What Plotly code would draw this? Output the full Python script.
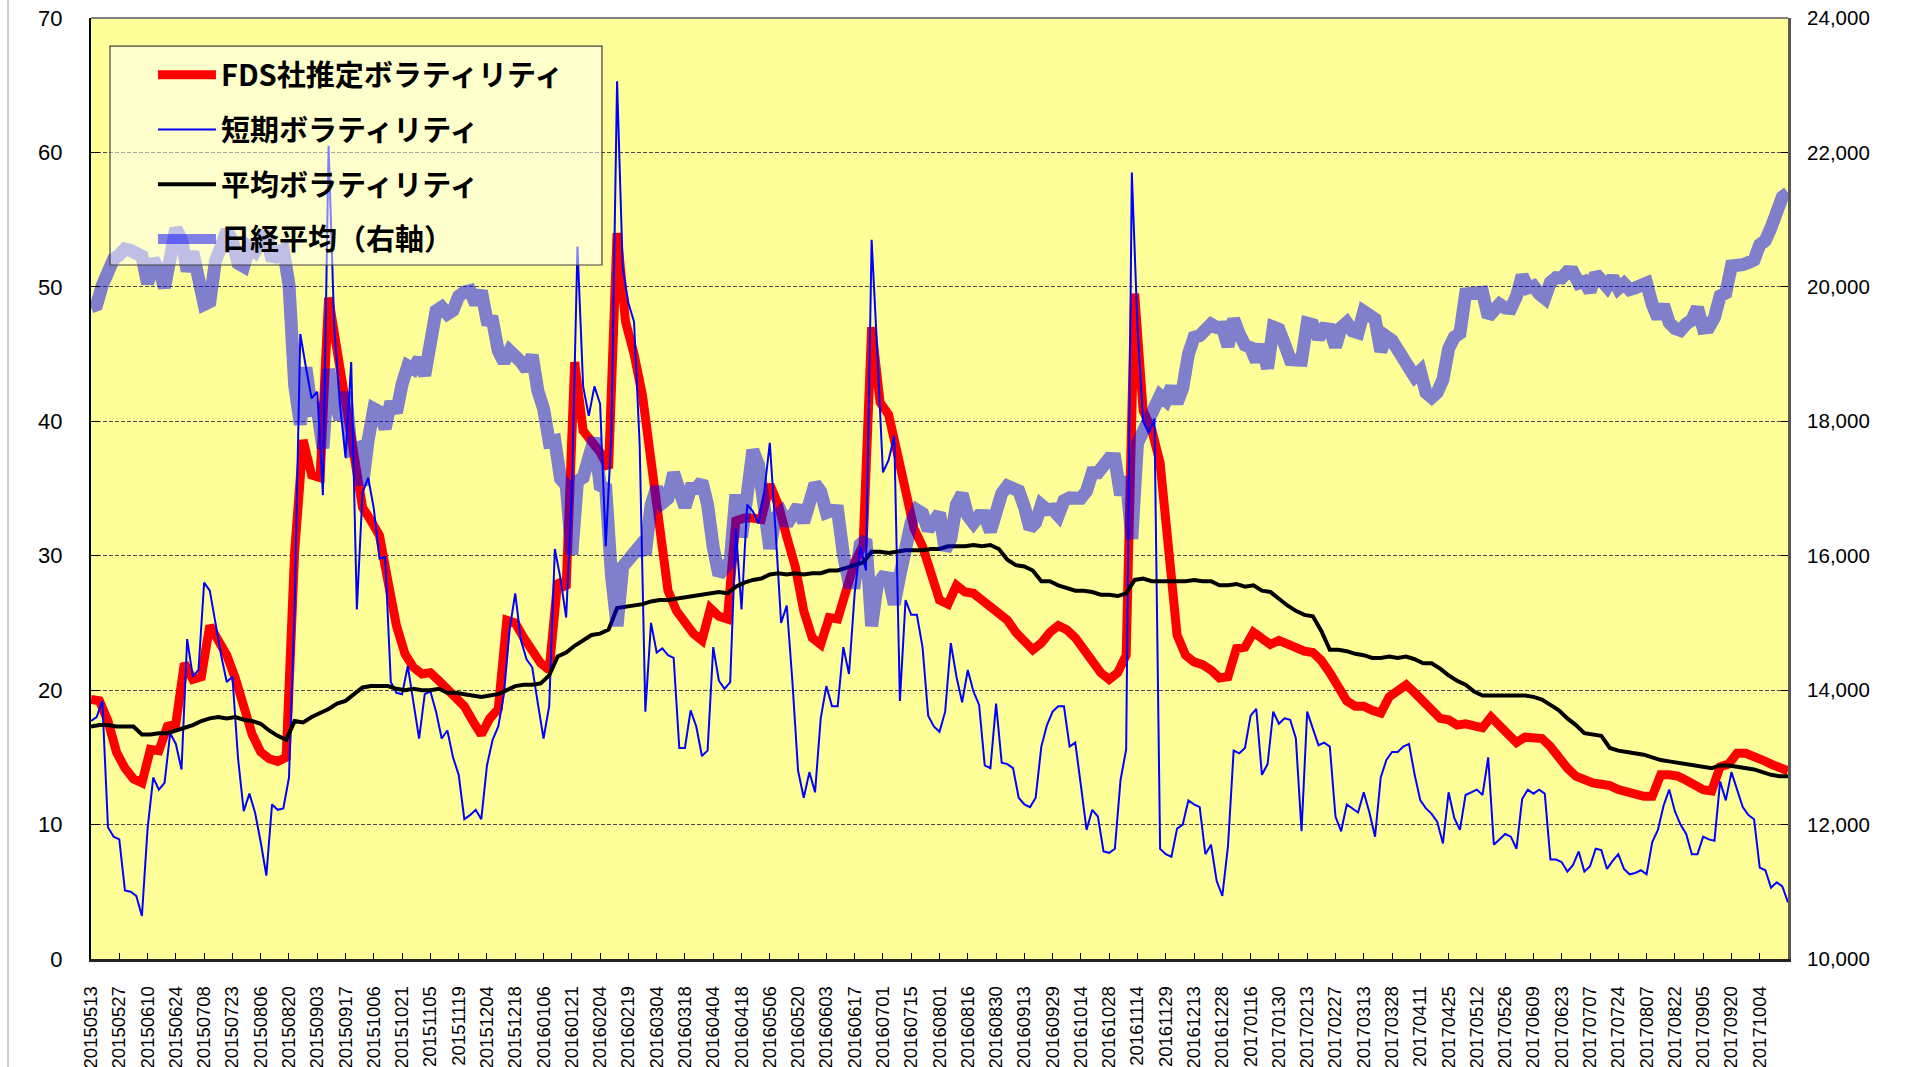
import pandas as pd
import plotly.graph_objects as go

# ---- calendar: Tokyo Stock Exchange trading days ----
tse_holidays = [
    "2015-07-20", "2015-09-21", "2015-09-22", "2015-09-23", "2015-10-12", "2015-11-03",
    "2015-11-23", "2015-12-23", "2015-12-31", "2016-01-01", "2016-01-11", "2016-02-11",
    "2016-03-21", "2016-04-29", "2016-05-03", "2016-05-04", "2016-05-05", "2016-07-18",
    "2016-08-11", "2016-09-19", "2016-09-22", "2016-10-10", "2016-11-03", "2016-11-23",
    "2016-12-23", "2017-01-02", "2017-01-03", "2017-01-09", "2017-03-20", "2017-05-03",
    "2017-05-04", "2017-05-05", "2017-07-17", "2017-08-11", "2017-09-18", "2017-10-09",
]

tick_labels = [
    "20150513", "20150527", "20150610", "20150624", "20150708", "20150723", "20150806",
    "20150820", "20150903", "20150917", "20151006", "20151021", "20151105", "20151119",
    "20151204", "20151218", "20160106", "20160121", "20160204", "20160219", "20160304",
    "20160318", "20160404", "20160418", "20160506", "20160520", "20160603", "20160617",
    "20160701", "20160715", "20160801", "20160816", "20160830", "20160913", "20160929",
    "20161014", "20161028", "20161114", "20161129", "20161213", "20161228", "20170116",
    "20170130", "20170213", "20170227", "20170313", "20170328", "20170411", "20170425",
    "20170512", "20170526", "20170609", "20170623", "20170707", "20170724", "20170807",
    "20170822", "20170905", "20170920", "20171004",
]

# ---- series ----
# short-term volatility, every 2nd trading day
short_vol = [
    17.7, 18.0, 19.2, 9.8, 9.1, 8.9, 5.1, 5.0, 4.7, 3.2, 9.7, 13.5, 12.6, 13.1, 16.8, 16.0, 14.1, 23.8, 21.0, 21.5,
    28.0, 27.4, 25.0, 22.6, 20.6, 21.0, 14.9, 11.0, 12.3, 10.9, 8.7, 6.2, 11.5, 11.1, 11.2, 13.5, 26.3, 46.5, 44.0, 41.7,
    42.2, 34.5, 60.5, 47.0, 41.3, 37.3, 44.4, 26.0, 34.7, 35.8, 33.5, 29.8, 29.9, 20.6, 19.8, 19.7, 21.8, 19.0, 16.4, 19.7,
    19.9, 18.4, 16.4, 17.0, 15.0, 13.7, 10.4, 10.7, 11.1, 10.4, 14.4, 16.3, 17.3, 19.7, 24.5, 27.2, 23.7, 22.3, 21.7, 19.0,
    16.4, 18.8, 30.5, 28.3, 25.4, 34.7, 53.0, 42.6, 40.4, 42.6, 41.3, 30.7, 39.1, 65.3, 51.4, 48.8, 47.4, 38.2, 18.4, 25.0,
    22.8, 23.1, 22.6, 22.4, 15.7, 15.7, 18.5, 17.3, 15.1, 15.5, 23.2, 20.7, 20.1, 20.6, 32.0, 26.0, 33.8, 33.3, 32.4, 34.7,
    38.4, 32.0, 25.0, 26.3, 20.6, 14.0, 12.0, 13.9, 12.4, 17.9, 20.3, 18.8, 18.8, 23.2, 21.2, 27.2, 30.7, 28.9, 53.5, 45.2,
    36.2, 37.1, 38.9, 19.2, 26.7, 25.6, 25.6, 23.2, 18.1, 17.3, 16.9, 18.4, 23.5, 21.0, 19.1, 21.5, 19.9, 18.9, 14.4, 14.2,
    19.0, 14.6, 14.5, 14.2, 12.0, 11.5, 11.3, 12.0, 15.8, 17.4, 18.4, 18.8, 18.8, 15.8, 16.1, 12.9, 9.6, 11.1, 10.6, 8.0,
    7.9, 8.2, 13.3, 15.6, 58.5, 47.0, 40.0, 39.1, 40.2, 8.2, 7.8, 7.6, 9.7, 10.0, 11.8, 11.5, 11.3, 7.8, 8.5, 5.8,
    4.7, 8.4, 15.5, 15.3, 15.7, 18.1, 18.6, 13.7, 14.5, 18.4, 17.5, 17.9, 17.8, 16.4, 9.5, 18.4, 17.1, 15.9, 16.1, 15.8,
    10.6, 9.5, 11.5, 11.2, 10.9, 12.4, 10.9, 9.1, 13.5, 14.8, 15.4, 15.4, 15.8, 16.0, 13.7, 11.8, 11.2, 10.8, 10.2, 8.6,
    12.4, 10.5, 9.6, 12.2, 12.4, 12.6, 12.2, 15.0, 8.5, 8.9, 9.3, 9.1, 8.2, 11.9, 12.6, 12.3, 12.6, 12.3, 7.4, 7.4,
    7.2, 6.5, 7.0, 8.0, 6.5, 6.9, 8.2, 8.1, 6.7, 7.3, 7.8, 6.7, 6.3, 6.4, 6.6, 6.3, 8.7, 9.6, 11.4, 12.6,
    11.0, 10.0, 9.3, 7.8, 7.8, 9.1, 8.9, 8.8, 13.2, 11.8, 13.9, 12.6, 11.3, 10.7, 10.4, 6.8, 6.6, 5.3, 5.7, 5.4,
    4.2,
]

# FDS estimated volatility, every 3rd trading day
fds_vol = [
    19.3, 19.2, 17.7, 15.4, 14.2, 13.4, 13.1, 15.6, 15.5, 17.3, 17.5, 22.0, 20.8, 21.0, 24.8, 23.6, 22.6, 20.9, 18.8, 16.7,
    15.4, 14.9, 14.7, 15.0, 30.3, 38.6, 36.0, 35.8, 49.2, 45.2, 41.7, 37.5, 33.6, 32.6, 31.5, 28.1, 24.8, 22.7, 21.7, 21.2,
    21.3, 20.7, 20.1, 19.6, 18.8, 17.7, 16.7, 17.9, 18.6, 25.2, 25.0, 23.9, 23.0, 22.0, 21.5, 28.1, 27.6, 44.4, 39.3, 38.5,
    37.7, 36.5, 54.0, 47.4, 45.0, 41.9, 36.9, 32.2, 27.4, 25.9, 25.0, 24.2, 23.7, 26.1, 25.5, 25.3, 32.6, 32.8, 32.8, 32.7,
    35.3, 33.8, 31.4, 29.2, 25.9, 23.9, 23.4, 25.4, 25.3, 27.5, 29.5, 30.8, 47.0, 41.4, 40.5, 37.7, 34.8, 32.0, 30.7, 28.7,
    26.7, 26.4, 27.8, 27.3, 27.2, 26.7, 26.2, 25.9, 25.2, 24.3, 23.6, 23.0, 23.5, 24.3, 24.8, 24.5, 23.9, 23.0, 22.0, 21.3,
    20.8, 21.3, 22.6, 49.5, 40.8, 39.4, 36.9, 29.8, 24.1, 22.6, 22.1, 21.9, 21.5, 20.9, 21.0, 23.1, 23.2, 24.3, 23.9, 23.4,
    23.7, 23.4, 23.1, 22.9, 22.8, 22.2, 21.3, 20.1, 19.2, 18.8, 18.8, 18.5, 18.3, 19.5, 19.9, 20.4, 19.8, 19.1, 18.4, 17.9,
    17.8, 17.4, 17.5, 17.4, 17.2, 18.0, 17.3, 16.6, 16.1, 16.5, 16.4, 16.4, 15.8, 14.9, 14.2, 13.6, 13.3, 13.1, 13.0, 12.9,
    12.6, 12.4, 12.2, 12.1, 12.1, 13.7, 13.7, 13.6, 13.3, 13.0, 12.6, 12.5, 14.3, 14.5, 15.3, 15.3, 15.1, 14.8, 14.5, 14.2,
    14.0,
]

# average volatility, every 3rd trading day
avg_vol = [
    17.3, 17.4, 17.4, 17.3, 17.3, 17.3, 16.7, 16.7, 16.8, 16.8, 17.0, 17.2, 17.4, 17.7, 17.9, 18.0, 17.9, 18.0, 17.8, 17.7,
    17.5, 17.0, 16.6, 16.3, 17.7, 17.6, 18.0, 18.3, 18.6, 19.0, 19.2, 19.7, 20.2, 20.3, 20.3, 20.3, 20.1, 20.0, 20.1, 20.0,
    20.0, 20.1, 19.8, 19.8, 19.7, 19.6, 19.5, 19.6, 19.7, 20.0, 20.3, 20.4, 20.4, 20.5, 21.1, 22.5, 22.8, 23.3, 23.7, 24.1,
    24.2, 24.5, 26.1, 26.2, 26.3, 26.4, 26.6, 26.7, 26.7, 26.8, 26.9, 27.0, 27.1, 27.2, 27.3, 27.2, 27.7, 28.0, 28.2, 28.3,
    28.6, 28.7, 28.6, 28.7, 28.6, 28.7, 28.7, 28.9, 28.9, 29.1, 29.3, 29.5, 30.3, 30.3, 30.2, 30.3, 30.4, 30.4, 30.4, 30.5,
    30.5, 30.7, 30.7, 30.7, 30.8, 30.7, 30.8, 30.5, 29.7, 29.3, 29.2, 28.9, 28.1, 28.1, 27.8, 27.6, 27.4, 27.4, 27.3, 27.1,
    27.1, 27.0, 27.2, 28.2, 28.3, 28.1, 28.1, 28.1, 28.1, 28.1, 28.2, 28.1, 28.1, 27.8, 27.8, 27.9, 27.7, 27.8, 27.4, 27.3,
    26.8, 26.3, 25.9, 25.6, 25.5, 24.4, 23.0, 23.0, 22.9, 22.7, 22.6, 22.4, 22.4, 22.5, 22.4, 22.5, 22.3, 22.0, 22.0, 21.6,
    21.1, 20.7, 20.4, 19.9, 19.6, 19.6, 19.6, 19.6, 19.6, 19.6, 19.5, 19.3, 18.9, 18.5, 17.9, 17.4, 16.8, 16.7, 16.6, 15.7,
    15.5, 15.4, 15.3, 15.2, 15.0, 14.8, 14.7, 14.6, 14.5, 14.4, 14.3, 14.2, 14.4, 14.4, 14.3, 14.2, 14.1, 13.9, 13.7, 13.6,
    13.6,
]

# Nikkei 225 close, every 2nd trading day
nikkei = [
    19700, 19732, 20026, 20202, 20413, 20472, 20563, 20543, 20488, 20457, 20046, 20407, 20257, 19990, 20428, 20868, 20706, 20235, 20522, 20112,
    19737, 19779, 20385, 20600, 20841, 20683, 20350, 20302, 20585, 20520, 20664, 20808, 20392, 20519, 20554, 20033, 18540, 17950, 18800, 18165,
    18183, 17600, 18770, 18264, 18026, 18432, 17571, 17600, 17050, 17725, 18186, 18141, 17891, 18291, 18131, 18554, 18825, 18777, 18935, 18683,
    19150, 19642, 19697, 19596, 19649, 19859, 19924, 19944, 19747, 19938, 19504, 19492, 19046, 18883, 19049, 18986, 18886, 18769, 18982, 18450,
    18191, 17697, 17715, 17147, 17048, 16017, 17110, 17163, 17518, 17750, 17044, 17004, 15713, 14952, 15837, 15967, 16052, 16140, 16027, 16747,
    17015, 16784, 16852, 17233, 16974, 16725, 17001, 17003, 17104, 16759, 16123, 15715, 15822, 15929, 16911, 16276, 16906, 17573, 17353, 16666,
    16107, 16565, 16646, 16467, 16644, 16736, 16498, 16772, 17068, 16955, 16642, 16675, 16668, 16019, 15600, 15599, 16169, 16238, 14952, 15566,
    15682, 15669, 15276, 15708, 16231, 16497, 16681, 16627, 16383, 16476, 16635, 16083, 16254, 16764, 16919, 16596, 16486, 16598, 16597, 16360,
    16725, 16926, 17037, 17012, 16965, 16729, 16405, 16492, 16754, 16683, 16693, 16598, 16819, 16860, 16840, 16856, 16963, 17235, 17234, 17391,
    17446, 17442, 16905, 17171, 16251, 17672, 17862, 17967, 18162, 18381, 18307, 18513, 18274, 18496, 18996, 19250, 19273, 19391, 19444, 19396,
    19401, 19114, 19520, 19301, 19134, 19095, 18894, 19137, 18787, 19402, 19368, 19148, 18918, 18910, 18907, 19459, 19437, 19234, 19381, 19371,
    19107, 19393, 19469, 19344, 19318, 19633, 19577, 19521, 19041, 19262, 19202, 19063, 18983, 18861, 18664, 18747, 18426, 18355, 18432, 18620,
    19079, 19251, 19310, 19895, 19900, 19883, 19919, 19553, 19678, 19742, 19686, 19677, 19860, 20170, 19984, 20013, 19898, 19831, 20067, 20138,
    20132, 20225, 20220, 20055, 20081, 19929, 20195, 20099, 20000, 20144, 19975, 20050, 19959, 19985, 20029, 20055, 19738, 19537, 19729, 19470,
    19383, 19353, 19449, 19506, 19691, 19385, 19396, 19545, 19866, 19909, 20310, 20296, 20330, 20363, 20400, 20626, 20690, 20881, 21155, 21336,
    21400,
]

hol = set(tse_holidays)
trade_days = [d.strftime("%Y%m%d") for d in pd.bdate_range("2015-05-13", "2017-10-19")
              if d.strftime("%Y-%m-%d") not in hol]
if trade_days[::10][:len(tick_labels)] != tick_labels:
    raise ValueError("trading calendar does not line up with the axis labels")

x2 = trade_days[::2]
x3 = trade_days[::3]
for name, xs, ys in (("short", x2, short_vol), ("fds", x3, fds_vol),
                     ("avg", x3, avg_vol), ("nikkei", x2, nikkei)):
    if len(xs) != len(ys):
        raise ValueError(f"{name}: {len(xs)} dates vs {len(ys)} values")

NUM_FONT = "Liberation Sans, Arial, sans-serif"
JP_FONT = "Noto Sans CJK JP, sans-serif"

fig = go.Figure()
fig.add_trace(go.Scatter(x=x3, y=fds_vol, mode="lines", name="FDS社推定ボラティリティ",
                         legendgroup="a", line=dict(color="#FF0000", width=9)))
fig.add_trace(go.Scatter(x=x2, y=short_vol, mode="lines", name="短期ボラティリティ",
                         legendgroup="b", line=dict(color="#0000FF", width=2)))
fig.add_trace(go.Scatter(x=x3, y=avg_vol, mode="lines", name="平均ボラティリティ",
                         legendgroup="c", line=dict(color="#000000", width=4)))
fig.add_trace(go.Scatter(x=x2, y=nikkei, mode="lines", name="日経平均（右軸）", yaxis="y2",
                         legendgroup="d", line=dict(color="rgba(0,0,255,0.5)", width=13)))

fig.update_layout(
    width=1922, height=1067,
    margin=dict(l=91, r=134, t=18, b=108, pad=0, autoexpand=False),
    paper_bgcolor="#FFFFFF",
    plot_bgcolor="#FFFF99",
    showlegend=True,
    legend=dict(
        x=0.0365, y=0.9665, xanchor="left", yanchor="top",
        bgcolor="rgba(0,0,0,0)", borderwidth=0,
        font=dict(family=JP_FONT, size=29, color="#000000", weight="bold"),
        itemwidth=58, tracegroupgap=14, traceorder="grouped",
    ),
    xaxis=dict(
        type="category", categoryorder="array", categoryarray=trade_days,
        range=[0, len(trade_days) - 1],
        tickmode="array", tickvals=tick_labels, ticktext=tick_labels,
        tickangle=-90, ticks="inside", ticklen=6, tickwidth=1, tickcolor="#000000",
        ticklabelstandoff=17,
        tickfont=dict(family=NUM_FONT, size=18.5, color="#000000"),
        showline=True, linecolor="#222222", linewidth=2.5,
        showgrid=False, zeroline=False,
    ),
    yaxis=dict(
        range=[0, 70], dtick=10, tick0=0,
        ticks="inside", ticklen=8, tickcolor="#000000",
        tickfont=dict(family=NUM_FONT, size=22, color="#000000"),
        ticklabelstandoff=22,
        showline=True, linecolor="#000000", linewidth=2,
        showgrid=True, gridcolor="#4a4a4a", gridwidth=1, griddash="4px,2px",
        zeroline=False,
    ),
    yaxis2=dict(
        overlaying="y", side="right", range=[10000, 24000], dtick=2000, tick0=10000,
        tickformat=",d", ticks="inside", ticklen=7, tickcolor="#000000",
        tickfont=dict(family=NUM_FONT, size=20.5, color="#000000"),
        ticklabelstandoff=12,
        showline=True, linecolor="#595959", linewidth=3,
        showgrid=False, zeroline=False,
    ),
    shapes=[
        # outer chart-area edge on the far left
        dict(type="line", xref="paper", yref="paper", x0=-0.0489, x1=-0.0489, y0=-0.12, y1=1.03,
             line=dict(color="#BFBFBF", width=1.5), layer="above"),
        # top edge of the plot area
        dict(type="line", xref="paper", yref="paper", x0=0, x1=1, y0=1, y1=1,
             line=dict(color="#808080", width=2), layer="above"),
        # legend frame
        dict(type="rect", xref="paper", yref="paper", x0=0.0112, x1=0.3011, y0=0.7375, y1=0.9702,
             fillcolor="rgba(255,255,255,0.5)", line=dict(color="#404040", width=1.2), layer="above"),
    ],
)

fig.write_html("out.html")
